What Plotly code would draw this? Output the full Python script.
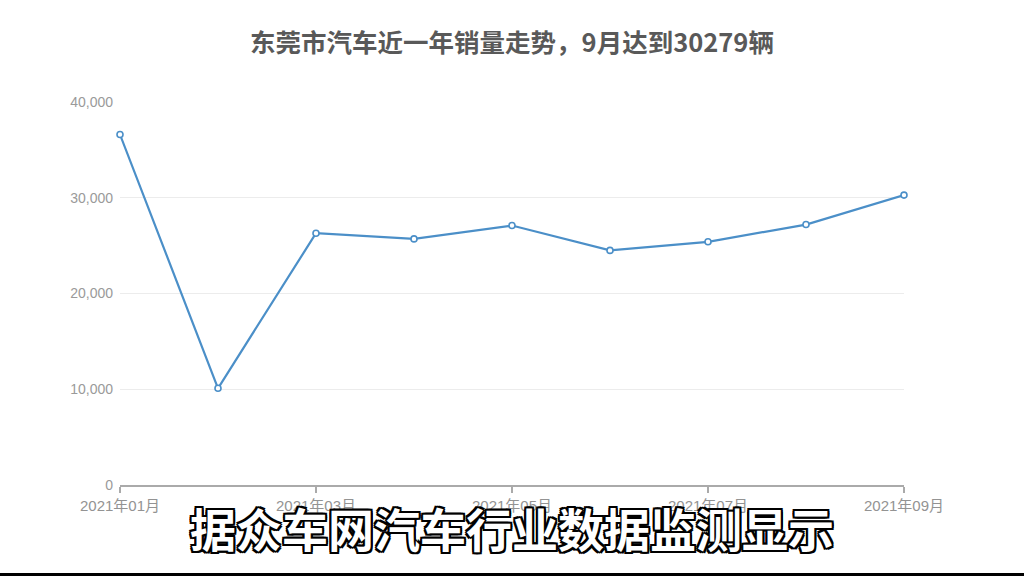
import plotly.graph_objects as go

months = ["2021年01月", "2021年02月", "2021年03月", "2021年04月", "2021年05月",
          "2021年06月", "2021年07月", "2021年08月", "2021年09月"]
sales = [36600, 10100, 26300, 25700, 27100, 24500, 25400, 27200, 30279]
tick_labels = ["2021年01月", "2021年03月", "2021年05月", "2021年07月", "2021年09月"]
y_ticks = [0, 10000, 20000, 30000, 40000]

title_text = "东莞市汽车近一年销量走势，9月达到30279辆"
subtitle_text = "据众车网汽车行业数据监测显示"

W, H = 1024, 576
L, R, T, B = 120, 120, 102, 91
plot_h = H - T - B

fig = go.Figure()
fig.add_trace(go.Scatter(
    x=months, y=sales, mode="lines+markers",
    line=dict(color="#4b8fc8", width=2.2),
    marker=dict(symbol="circle", size=6, color="white",
                line=dict(color="#4b8fc8", width=1.6)),
    cliponaxis=False, showlegend=False,
))

fig.update_layout(
    width=W, height=H,
    margin=dict(l=L, r=R, t=T, b=B),
    paper_bgcolor="white", plot_bgcolor="white",
    font=dict(family="Liberation Sans, Noto Sans CJK SC", color="#999"),
    title=dict(text=title_text, x=0.5, xanchor="center", xref="paper",
               y=1 - 43 / H, yanchor="middle", yref="container",
               font=dict(family="Noto Sans CJK SC", size=25.5, color="#595959", weight="bold")),
    xaxis=dict(
        type="category", categoryorder="array", categoryarray=months,
        range=[0, len(months) - 1],
        tickmode="array", tickvals=tick_labels, ticktext=tick_labels,
        showline=True, linecolor="#aaa", linewidth=1.5,
        ticks="outside", ticklen=6, tickcolor="#aaa", tickwidth=1.5,
        showgrid=False, zeroline=False,
        tickfont=dict(family="Liberation Sans, Noto Sans CJK SC", size=15, color="#939393"),
    ),
    yaxis=dict(
        range=[0, 40000], tickvals=y_ticks, tickformat=",d",
        showgrid=True, gridcolor="#ececec", gridwidth=1,
        zeroline=False, showline=False, ticks="",
        ticklabelstandoff=6,
        tickfont=dict(family="Liberation Sans, Noto Sans CJK SC", size=14, color="#9a9a9a"),
    ),
    shapes=[dict(type="rect", xref="paper", yref="paper",
                 x0=-L / (W - L - R) - 0.01, x1=1 + R / (W - L - R) + 0.01,
                 y0=-B / plot_h - 0.01, y1=-(B - 3) / plot_h,
                 fillcolor="black", line=dict(width=0), layer="above")],
    annotations=[dict(
        text=subtitle_text, xref="paper", yref="paper", x=0.5, y=0,
        xanchor="center", yanchor="middle", yshift=-42, showarrow=False,
        font=dict(family="Noto Sans CJK SC", size=46, color="white", weight="bold",
                  shadow="-2px -2px 0 #000, 2px -2px 0 #000, -2px 2px 0 #000, 2px 2px 0 #000, "
                         "0 2px 0 #000, 0 -2px 0 #000, 2px 0 0 #000, -2px 0 0 #000"),
    )],
)

fig.write_html("out.html", config={"displayModeBar": False},
               post_script="document.body.style.margin='0';document.body.style.overflow='hidden';")
